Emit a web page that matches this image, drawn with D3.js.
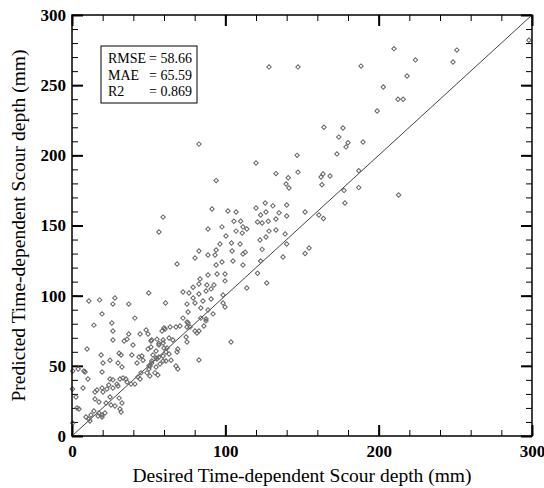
<!DOCTYPE html>
<html>
<head>
<meta charset="utf-8">
<script src="https://cdn.jsdelivr.net/npm/d3@7"></script>
<style>
  body { margin: 0; background: #fff; }
  text { font-family: "Liberation Serif", "Times New Roman", serif; }
</style>
</head>
<body>
<div id="chart"></div>
<script>
// desired (x) vs predicted (y) scour depth, mm
const desired = [
  128.5,147.4,82.8,146.8,120,133,147.4,94,141,139.6,141.5,
  210,251,188.5,224,248.5,218.5,203,212.6,216,199,164.3,176.7,174,180,178.7,189.8,172.8,163.7,162.4,168.3,163,187,177.4,187,213,178,164,298,
  107,126,120,131,140,123,126.5,135,140,152,161,105.6,110,121,124,128,133,111.5,114,107,111,128.5,133,126.5,122.6,104,109.6,140,124,154.6,104.4,113,111.5,152,137.6,105,123,111.5,121,139,
  59.4,56.7,91.3,101.7,88.7,97.8,100.4,96.5,82.8,94,88.7,93.3,80.2,97.8,94,68.5,88.7,94.6,83.5,99.8,82.8,79,88,92.6,90.7,99.8,
  127,114,72.4,76.3,82.8,87.4,98.5,79,85.4,90.7,75,80.2,98.5,84,99.8,75.7,88.7,84,92,87.4,86,72.4,75,
  11,18,28,26.7,37,50,61,19.6,41,14.3,26,26.7,37,44.4,48.3,49.6,26.7,34,35.9,39.8,51.5,55.4,58.7,60.7,59.4,9.8,49.6,
  51.5,56.7,19,30.7,32,24.8,30,32.6,20.2,19.6,39,43.7,45.6,42.4,46.3,52,54.8,50.2,50.2,57.4,59.4,61.3,62,7.8,8.5,10.4,7.2,2.6,0.5,15,16.3,19.6,20.2,22.8,24.8,26.7,24,29.3,30,31.3,33.3,35.2,35.9,38.5,41,44.4,48.9,45,43,50.8,54.1,56,
  26.7,30.7,24.8,15,17.6,22.2,25.4,31.3,32.6,28,14.3,17.6,17,12.4,9.1,11,11.7,19.6,21.5,19.6,4.6,3.3,0.5,32,4,0.3,
  64,67.8,70.4,75,75.7,77,80.2,82.8,81.5,87.4,63.3,65.8,52,74.4,75,56.7,60,61.3,69,68.5,63.3,54.8,52.8,56.7,55.4,59.4,64.6,52,50.9,54.8,67.8,69,103.7,82.8,59.4,60
];
const predicted = [
  263,263,208,200,194.5,187,188,182,184,179.6,176.7,
  276,275,263.6,268,266.5,256.5,248.7,240,240,231.6,220,219.5,213,209,206,209.5,201,186.7,184.6,185.3,179,189,175,177,171.7,166,155,282,
  159.6,166,162.5,164,164.6,157.5,159.6,159,156.8,159.6,157.5,153,153,152.5,151.8,153,154.6,149,147.5,146,144.6,146,146.8,141.8,139.7,137.5,136.8,136.8,133,134,131.8,131,129.7,130,127.6,124.7,124.7,121.9,116,144,
  156,145.4,161.8,160.3,147.5,149,142.5,136.8,131.8,132.5,129,129,126.8,124,121.9,122.6,114.7,115.4,111.9,110.5,108.3,106,107.6,107.6,104.8,115.4,
  109,105.5,102.6,101.9,101.2,103.3,100.5,98.3,96.2,97.6,94,94.8,94.8,91.2,91.9,88.4,89.8,84,87,83.4,78.4,84,81.2,
  96.2,97,98.3,94,94,101.9,94.8,87,84,79,80.5,74.8,72.7,72.7,75.5,72.7,68.4,67.7,69,64.8,67.7,69,74.8,76.2,68.4,62,62,
  63.4,66,57.7,59,57.7,54,52,49.2,52,45.6,57.7,56.3,57,52,54,53.4,55.6,50,47.7,51.3,57,53.4,62.7,46.3,45.6,40.6,34.2,27.8,46.3,31.4,32.8,34.2,31.4,33.5,40.6,40,36.3,37,35.6,40.6,41.3,40.6,38.5,37,37,40.6,45,45,42,42.8,45,43.5,
  34.2,27,27.8,26.4,24.2,23.5,22.1,19.2,23.5,21.4,17.8,16.4,14.3,15,13.5,12.1,10.7,15,16.4,13.5,19.2,20,9.3,17.1,47.7,33.5,
  77.7,77.7,78.4,77.7,80.5,77.7,74.8,74.8,73.4,82,69.8,68.4,68.4,70.5,67,64.8,62.7,59.9,62,59.9,58.4,60.6,57.7,56.3,54.9,53.4,54,52,49.9,49.2,49.9,47.7,67,54.2,66.3,77
];

const statNames = ["RMSE", "MAE", "R2"];
const statValues = ["58.66", "65.59", "0.869"];

const xMajor = [0, 100, 200, 300];
const yMajor = [0, 50, 100, 150, 200, 250, 300];

const margin = { top: 15, right: 12, bottom: 52, left: 72 };
const W = 544, H = 488;
const width = W - margin.left - margin.right;
const height = H - margin.top - margin.bottom;

const svg = d3.select("#chart").append("svg")
  .attr("width", W).attr("height", H);
const g = svg.append("g").attr("transform", `translate(${margin.left},${margin.top})`);

const x = d3.scaleLinear().domain([0, 300]).range([0, width]);
const y = d3.scaleLinear().domain([0, 300]).range([height, 0]);

// minor ticks (inward) on all four sides
const xMinor = d3.range(0, 301, 20);
const yMinor = d3.range(0, 301, 10);
const minor = [
  [d3.axisBottom(x).tickValues(xMinor), `translate(0,${height})`],
  [d3.axisTop(x).tickValues(xMinor), null],
  [d3.axisLeft(y).tickValues(yMinor), null],
  [d3.axisRight(y).tickValues(yMinor), `translate(${width},0)`]
];
minor.forEach(([ax, tr]) => {
  const a = g.append("g").attr("class", "minor")
    .call(ax.tickSize(-6).tickFormat(""));
  if (tr) a.attr("transform", tr);
  a.select(".domain").remove();
  a.selectAll("line").attr("stroke", "#000").attr("stroke-width", 1);
});

// major ticks + labels
const xAx = g.append("g").attr("transform", `translate(0,${height})`)
  .call(d3.axisBottom(x).tickValues(xMajor).tickSize(-11).tickPadding(9));
const xTop = g.append("g")
  .call(d3.axisTop(x).tickValues(xMajor).tickSize(-11).tickFormat(""));
const yAx = g.append("g")
  .call(d3.axisLeft(y).tickValues(yMajor).tickSize(-11).tickPadding(6));
const yRight = g.append("g").attr("transform", `translate(${width},0)`)
  .call(d3.axisRight(y).tickValues(yMajor).tickSize(-11).tickFormat(""));
[xAx, xTop, yAx, yRight].forEach(a => {
  a.select(".domain").remove();
  a.selectAll("line").attr("stroke", "#000").attr("stroke-width", 2);
  a.selectAll("text")
    .attr("fill", "#000")
    .style("font-family", "'Liberation Serif', serif")
    .style("font-size", "17px")
    .style("font-weight", "bold");
});

// 1:1 line
g.append("line")
  .attr("x1", x(0)).attr("y1", y(0))
  .attr("x2", x(300)).attr("y2", y(300))
  .attr("stroke", "#444").attr("stroke-width", 1);

// markers
const pts = desired.map((d, i) => ({ d, p: predicted[i] }));
const diamond = d3.symbol().type(d3.symbolSquare).size(10);
g.append("g").selectAll("path")
  .data(pts)
  .join("path")
  .attr("d", diamond)
  .attr("transform", d => `translate(${x(d.d)},${y(d.p)}) rotate(45)`)
  .attr("fill", "none")
  .attr("stroke", "#666")
  .attr("stroke-width", 1);

// frame
g.append("rect")
  .attr("width", width).attr("height", height)
  .attr("fill", "none").attr("stroke", "#000").attr("stroke-width", 1.5);

// stats box
const box = g.append("g").attr("transform", `translate(${101 - margin.left},${46 - margin.top})`);
box.append("rect")
  .attr("width", 96).attr("height", 57)
  .attr("fill", "#fff").attr("stroke", "#000").attr("stroke-width", 1);
statNames.forEach((n, i) => {
  const ty = 17 + i * 16.5;
  box.append("text").attr("x", 7).attr("y", ty)
    .style("font-size", "14px").text(n);
  box.append("text").attr("x", 48).attr("y", ty)
    .style("font-size", "14px").text("= " + statValues[i]);
});

// axis titles
svg.append("text")
  .attr("x", margin.left + width / 2).attr("y", 482)
  .attr("text-anchor", "middle")
  .style("font-size", "19.5px")
  .text("Desired Time-dependent Scour depth (mm)");

svg.append("text")
  .attr("transform", `translate(25,${margin.top + height / 2}) rotate(-90)`)
  .attr("text-anchor", "middle")
  .style("font-size", "19.5px")
  .text("Predicted Time-dependent Scour depth (mm)");
</script>
</body>
</html>
